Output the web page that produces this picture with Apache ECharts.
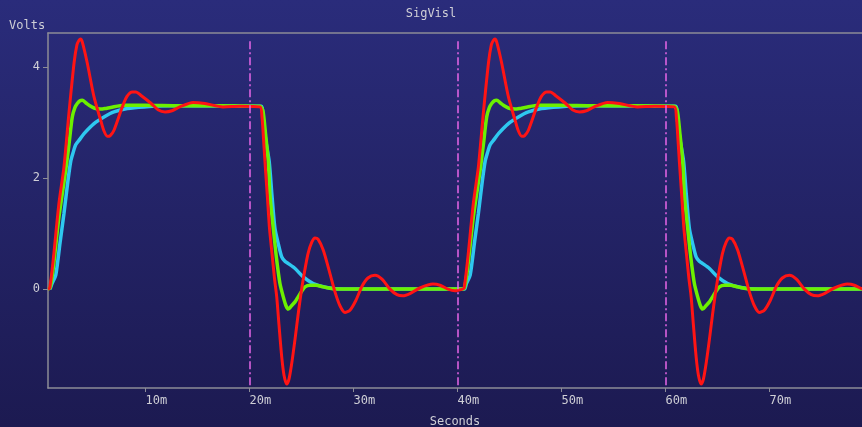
<!DOCTYPE html>
<html>
<head>
<meta charset="utf-8">
<script src="https://cdn.jsdelivr.net/npm/echarts@6/dist/echarts.min.js"></script>
<style>
html,body{margin:0;padding:0;background:#1d1b54;}
#chart{width:862px;height:427px;}
</style>
</head>
<body>
<div id="chart"></div>
<script>
// ---- data (time in ms, volts) ----
const xTickValues = [10, 20, 30, 40, 50, 60, 70];
const yTickValues = [0, 2, 4];
const markerTimes = [20, 40, 60];
const xRange = [0.625, 78.9];
const yRange = [-1.78, 4.61];
const markerTop = 4.46;

const cyanPts = [
  [0.82,0],[1.01,0.1],[1.37,0.25],[1.78,0.83],[2.16,1.36],[2.55,1.96],[2.81,2.3],[3.03,2.45],[3.29,2.6],[3.7,2.7],
  [4.09,2.8],[5.05,2.98],[6.01,3.1],[6.97,3.19],[8.25,3.25],[9.86,3.28],[12.36,3.3],[21.11,3.29],
  [21.33,3.0],[21.59,2.65],[21.9,2.29],[22.16,1.69],[22.45,1.09],[22.79,0.8],[23.1,0.58],[23.41,0.5],[23.73,0.46],
  [24.38,0.37],[25.17,0.22],[26.13,0.1],[27.42,0.03],[29.02,0.0],[34,0],[40.14,0],
  [40.67,0],[40.86,0.1],[41.22,0.25],[41.63,0.83],[42.01,1.36],[42.4,1.96],[42.66,2.3],[42.88,2.45],[43.14,2.6],[43.55,2.7],
  [43.94,2.8],[44.9,2.98],[45.86,3.1],[46.82,3.19],[48.1,3.25],[49.71,3.28],[52.21,3.3],[60.96,3.29],
  [61.18,3.0],[61.44,2.65],[61.75,2.29],[62.01,1.69],[62.3,1.09],[62.64,0.8],[62.95,0.58],[63.26,0.5],[63.58,0.46],
  [64.23,0.37],[65.02,0.22],[65.98,0.1],[67.27,0.03],[68.87,0.0],[73.85,0],[79.99,0]
];

const greenPts = [
  [0.63,0],[0.82,0.02],[1.11,0.35],[1.68,1.3],[2.33,2.14],[2.64,2.6],[2.96,3.1],[3.22,3.27],[3.44,3.34],[3.7,3.39],
  [3.92,3.4],[4.28,3.35],[4.57,3.31],[5.05,3.26],[5.69,3.24],[6.11,3.25],[6.65,3.27],[7.93,3.31],[9.86,3.31],
  [13.32,3.3],[17.16,3.3],[21.01,3.29],
  [21.3,3.2],[21.54,2.8],[21.81,2.29],[21.97,1.69],[22.29,1.09],[22.6,0.55],[22.93,0.1],[23.25,-0.14],[23.51,-0.3],
  [23.73,-0.36],[24.04,-0.3],[24.38,-0.23],[24.71,-0.13],[25.02,-0.04],[25.34,0.04],[25.82,0.07],[26.39,0.07],
  [27.1,0.04],[28.38,0.0],[30.63,0],[34.47,0],[38.32,0],[40.14,0],
  [40.48,0],[40.67,0.02],[40.96,0.35],[41.53,1.3],[42.18,2.14],[42.49,2.6],[42.81,3.1],[43.07,3.27],[43.29,3.34],[43.55,3.39],
  [43.77,3.4],[44.13,3.35],[44.42,3.31],[44.9,3.26],[45.54,3.24],[45.96,3.25],[46.5,3.27],[47.78,3.31],[49.71,3.31],
  [53.17,3.3],[57.01,3.3],[60.86,3.29],
  [61.15,3.2],[61.39,2.8],[61.66,2.29],[61.82,1.69],[62.14,1.09],[62.45,0.55],[62.78,0.1],[63.1,-0.14],[63.36,-0.3],
  [63.58,-0.36],[63.89,-0.3],[64.23,-0.23],[64.56,-0.13],[64.87,-0.04],[65.19,0.04],[65.67,0.07],[66.24,0.07],
  [66.95,0.04],[68.23,0.0],[70.48,0],[74.32,0],[78.17,0],[79.99,0]
];

const redPts = [
  [0.63,0],[0.79,0.02],[1.11,0.5],[1.68,1.55],[2.16,2.2],[2.64,3.17],[3.13,4.07],[3.41,4.4],[3.61,4.48],[3.75,4.5],
  [3.92,4.45],[4.4,4.07],[5.05,3.46],[5.69,3.04],[6.0,2.85],[6.33,2.75],[6.59,2.76],[6.97,2.86],[7.77,3.28],[8.22,3.47],
  [8.73,3.55],[9.09,3.55],[9.54,3.49],[10.5,3.35],[11.2,3.23],[11.88,3.19],[12.55,3.21],[13.3,3.28],[14.57,3.36],
  [15.72,3.34],[17.45,3.28],[19.09,3.29],[21.01,3.28],
  [21.2,3.1],[21.35,2.7],[21.49,2.29],[21.71,1.69],[21.92,1.1],[22.16,0.65],[22.4,0.2],[22.62,-0.14],[22.84,-0.65],
  [23.1,-1.22],[23.32,-1.55],[23.58,-1.71],[23.8,-1.62],[24.06,-1.34],[24.38,-0.9],[24.69,-0.44],[25.0,-0.02],
  [25.34,0.36],[25.63,0.64],[25.98,0.84],[26.3,0.92],[26.59,0.9],[27.1,0.7],[27.74,0.28],[28.22,-0.05],[28.7,-0.3],
  [29.18,-0.42],[29.66,-0.38],[30.24,-0.2],[30.82,0.05],[31.39,0.2],[32.07,0.25],[32.74,0.18],[33.51,0.0],
  [34.18,-0.1],[34.76,-0.12],[35.43,-0.08],[36.39,0.02],[37.64,0.09],[38.32,0.07],[39.09,0.0],[39.76,-0.03],
  [40.48,0],[40.64,0.02],[40.96,0.5],[41.53,1.55],[42.01,2.2],[42.49,3.17],[42.98,4.07],[43.26,4.4],[43.46,4.48],[43.6,4.5],
  [43.77,4.45],[44.25,4.07],[44.9,3.46],[45.54,3.04],[45.85,2.85],[46.18,2.75],[46.44,2.76],[46.82,2.86],[47.62,3.28],[48.07,3.47],
  [48.58,3.55],[48.94,3.55],[49.39,3.49],[50.35,3.35],[51.05,3.23],[51.73,3.19],[52.4,3.21],[53.15,3.28],[54.42,3.36],
  [55.57,3.34],[57.3,3.28],[58.94,3.29],[60.86,3.28],
  [61.05,3.1],[61.2,2.7],[61.34,2.29],[61.56,1.69],[61.77,1.1],[62.01,0.65],[62.25,0.2],[62.47,-0.14],[62.69,-0.65],
  [62.95,-1.22],[63.17,-1.55],[63.43,-1.71],[63.65,-1.62],[63.91,-1.34],[64.23,-0.9],[64.54,-0.44],[64.85,-0.02],
  [65.19,0.36],[65.48,0.64],[65.83,0.84],[66.15,0.92],[66.44,0.9],[66.95,0.7],[67.59,0.28],[68.07,-0.05],[68.55,-0.3],
  [69.03,-0.42],[69.51,-0.38],[70.09,-0.2],[70.67,0.05],[71.24,0.2],[71.92,0.25],[72.59,0.18],[73.36,0.0],
  [74.03,-0.1],[74.61,-0.12],[75.28,-0.08],[76.24,0.02],[77.49,0.09],[78.17,0.07],[78.94,0.0],[79.61,-0.03]
];

// ---- chart ----
const FONT = 'DejaVu Sans Mono';
const TXT = '#cfcfd6';
const AXIS = '#8c8c96';
const chart = echarts.init(document.getElementById('chart'), null, {renderer: 'canvas'});

const markerData = markerTimes.map(t => [{coord: [t, markerTop]}, {coord: [t, yRange[0]]}]);

chart.setOption({
  animation: false,
  backgroundColor: {
    type: 'linear', x: 0, y: 0, x2: 0, y2: 1,
    colorStops: [{offset: 0, color: '#2a2c7b'}, {offset: 1, color: '#1c1a51'}]
  },
  title: {
    text: 'SigVisl', left: 'center', top: 3,
    textStyle: {color: TXT, fontFamily: FONT, fontSize: 12, fontWeight: 'normal'}
  },
  grid: {left: 48, top: 33, right: 0, bottom: 39, containLabel: false, outerBoundsMode: 'none'},
  xAxis: [{
    type: 'value', min: xRange[0], max: xRange[1],
    name: 'Seconds', nameLocation: 'middle', nameGap: 28,
    nameTextStyle: {color: TXT, fontFamily: FONT, fontSize: 12},
    axisLine: {show: true, onZero: false, lineStyle: {color: AXIS, width: 1.5}},
    axisTick: {show: true, customValues: xTickValues, length: 4, lineStyle: {color: AXIS}},
    axisLabel: {customValues: xTickValues, formatter: v => v + 'm', color: TXT, fontFamily: FONT, fontSize: 12, margin: 7, align: 'left'},
    splitLine: {show: false}
  }, {
    type: 'value', position: 'top', min: xRange[0], max: xRange[1],
    axisLine: {show: true, onZero: false, lineStyle: {color: AXIS, width: 1.5}},
    axisTick: {show: false}, axisLabel: {show: false}, splitLine: {show: false}
  }],
  yAxis: {
    type: 'value', min: yRange[0], max: yRange[1],
    axisLine: {show: true, onZero: false, lineStyle: {color: AXIS, width: 1.5}},
    axisTick: {show: true, customValues: yTickValues, length: 5, lineStyle: {color: AXIS}},
    axisLabel: {customValues: yTickValues, color: TXT, fontFamily: FONT, fontSize: 12, margin: 8},
    splitLine: {show: false}
  },
  graphic: [{
    type: 'text', left: 9, top: 20,
    style: {text: 'Volts', fill: TXT, font: '12px "' + FONT + '"'}
  }],
  series: [{
    type: 'line', data: [], z: 1, silent: true,
    markLine: {
      silent: true, symbol: ['none', 'none'], label: {show: false},
      lineStyle: {color: '#e865e8', width: 1.5, type: [8, 3, 2, 3]},
      data: markerData
    }
  }, {
    name: 'cyan', type: 'line', data: cyanPts, showSymbol: false, smooth: 0.25, z: 2,
    lineStyle: {color: '#2ec8f0', width: 3.5}
  }, {
    name: 'green', type: 'line', data: greenPts, showSymbol: false, smooth: 0.25, z: 3,
    lineStyle: {color: '#6cf000', width: 3.5}
  }, {
    name: 'red', type: 'line', data: redPts, showSymbol: false, smooth: 0.25, z: 4,
    lineStyle: {color: '#ff1414', width: 3}
  }]
});
</script>
</body>
</html>
